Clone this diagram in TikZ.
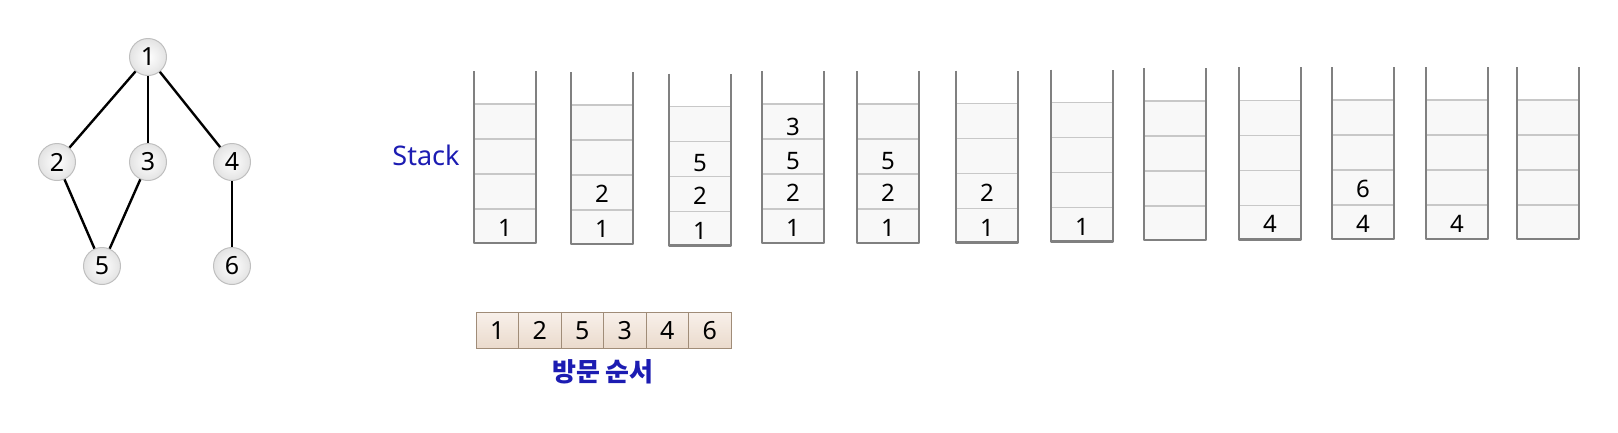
\documentclass[tikz,border=0pt]{standalone}
\usepackage{fontspec}
\setmainfont{Noto Sans}
\newfontfamily\krfont{Noto Sans CJK KR}
\definecolor{lblblue}{RGB}{28,28,178}
\definecolor{wallgray}{RGB}{128,128,128}
\definecolor{divgray}{RGB}{200,200,200}
\definecolor{cellfill}{RGB}{248,248,248}
\definecolor{boxedge}{RGB}{160,140,120}
\definecolor{boxtop}{RGB}{248,240,234}
\definecolor{boxbot}{RGB}{234,218,204}
\tikzset{
  gnode/.style={circle, minimum size=37pt, inner sep=0pt, draw=gray!50, line width=1pt,
    inner color=white, outer color=gray!22, font=\fontsize{25}{25}\selectfont},
  gedge/.style={line width=2.4pt, black},
  wall/.style={line width=2.6pt, wallgray, line join=round},
  divider/.style={line width=1.4pt, divgray},
  dig/.style={inner sep=0pt, font=\fontsize{24}{24}\selectfont},
  vbox/.style={draw=boxedge, line width=1pt, minimum width=42.5pt, minimum height=35.6pt,
    inner sep=0pt, top color=boxtop, bottom color=boxbot, font=\fontsize{25}{25}\selectfont},
  lbl/.style={inner sep=0pt, text=lblblue, font=\fontsize{27}{27}\selectfont}
}
\begin{document}
\begin{tikzpicture}[x=1pt,y=-1pt]
\useasboundingbox (0,0) rectangle (1618,432);
% graph
\node[gnode] (n1) at (148,57) {1};
\node[gnode] (n2) at (57,162) {2};
\node[gnode] (n3) at (148,162) {3};
\node[gnode] (n4) at (232,162) {4};
\node[gnode] (n5) at (102,266) {5};
\node[gnode] (n6) at (232,266) {6};
\draw[gedge] (n1) -- (n2);
\draw[gedge] (n1) -- (n3);
\draw[gedge] (n1) -- (n4);
\draw[gedge] (n2) -- (n5);
\draw[gedge] (n3) -- (n5);
\draw[gedge] (n4) -- (n6);
% label
\node[lbl] (stacklbl) at (426,155) {Stack};
% stacks
\foreach \i/\l/\b in {1/474/243, 2/571/244, 3/669/245.5, 4/762/243, 5/857/243, 6/956/242.5,
  7/1051/241.5, 8/1144/240, 9/1239/239.3, 10/1332/239, 11/1426/239, 12/1517/239}{
  \fill[cellfill] (\l,\b) rectangle (\l+62,\b-139);
  \foreach \d in {34,69,104,139}{
    \draw[divider] (\l+1,\b-\d) -- (\l+61,\b-\d);
  }
  \draw[wall] (\l,\b-172) -- (\l,\b) -- (\l+62,\b) -- (\l+62,\b-172);
  \coordinate (st\i) at (\l+31,\b);
}
% stack contents
\node[dig] (s1a) at ([yshift=15pt]st1) {1};
\node[dig] (s2a) at ([yshift=15pt]st2) {1};
\node[dig] (s2b) at ([yshift=50pt]st2) {2};
\node[dig] (s3a) at ([yshift=15pt]st3) {1};
\node[dig] (s3b) at ([yshift=50pt]st3) {2};
\node[dig] (s3c) at ([yshift=82pt]st3) {5};
\node[dig] (s4a) at ([yshift=15pt]st4) {1};
\node[dig] (s4b) at ([yshift=50pt]st4) {2};
\node[dig] (s4c) at ([yshift=82pt]st4) {5};
\node[dig] (s4d) at ([yshift=116pt]st4) {3};
\node[dig] (s5a) at ([yshift=15pt]st5) {1};
\node[dig] (s5b) at ([yshift=50pt]st5) {2};
\node[dig] (s5c) at ([yshift=82pt]st5) {5};
\node[dig] (s6a) at ([yshift=15pt]st6) {1};
\node[dig] (s6b) at ([yshift=50pt]st6) {2};
\node[dig] (s7a) at ([yshift=15pt]st7) {1};
\node[dig] (s9a) at ([yshift=15pt]st9) {4};
\node[dig] (s10a) at ([yshift=15pt]st10) {4};
\node[dig] (s10b) at ([yshift=50pt]st10) {6};
\node[dig] (s11a) at ([yshift=15pt]st11) {4};
% visit order
\foreach \v [count=\i] in {1,2,5,3,4,6}{
  \node[vbox] (v\i) at (476+42.5*\i-21.25,330.5) {\v};
}
\node[lbl, font=\krfont\bfseries\fontsize{26}{26}\selectfont] (order) at (603,372) {방문 순서};
\end{tikzpicture}
\end{document}
